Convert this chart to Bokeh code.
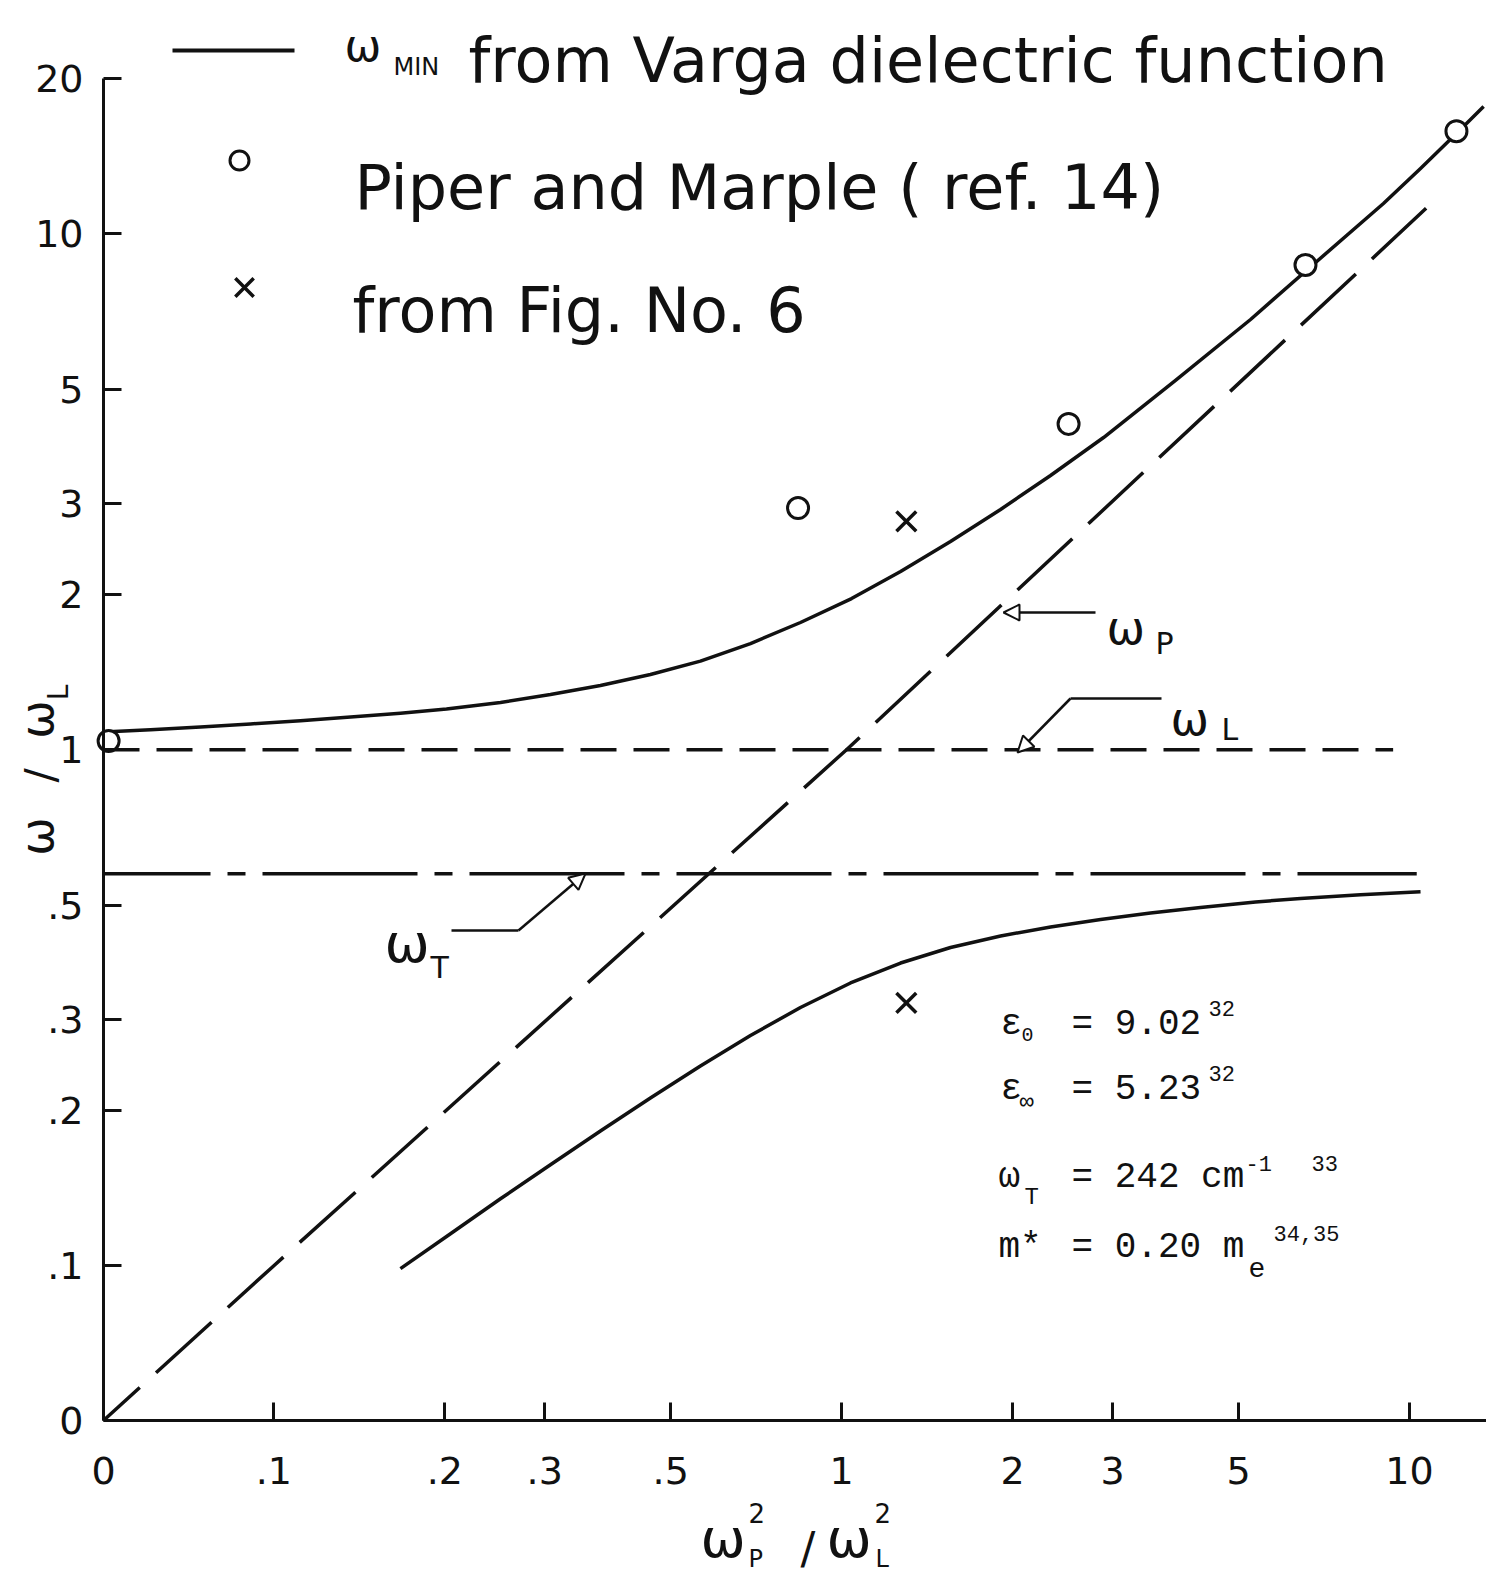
import numpy as np
from math import pi
from bokeh.plotting import figure
from bokeh.models import Range1d, FixedTicker, Label, Arrow, NormalHead
from bokeh.embed import file_html
from bokeh.resources import INLINE

# ---------------- data ----------------
x_ticks = [0, 0.1, 0.2, 0.3, 0.5, 1, 2, 3, 5, 10]
x_tick_labels = ["0", ".1", ".2", ".3", ".5", "1", "2", "3", "5", "10"]
y_ticks = [0, 0.1, 0.2, 0.3, 0.5, 1, 2, 3, 5, 10, 20]
y_tick_labels = ["0", ".1", ".2", ".3", ".5", "1", "2", "3", "5", "10", "20"]

# omega_MIN, upper branch
upper_x = [0.0, 0.0276, 0.0569, 0.0863, 0.1114, 0.1365, 0.1671, 0.2014, 0.2507,
           0.3070, 0.3760, 0.4605, 0.5640, 0.6909, 0.8462, 1.041, 1.270, 1.555,
           1.905, 2.333, 2.893, 3.873, 5.250, 6.615, 9.00, 10.46, 12.20, 13.51]
upper_y = [1.082, 1.093, 1.107, 1.122, 1.138, 1.157, 1.177, 1.199, 1.235,
           1.279, 1.332, 1.399, 1.485, 1.606, 1.764, 1.963, 2.215, 2.532,
           2.921, 3.400, 4.027, 5.195, 6.819, 8.525, 11.44, 13.38, 15.78, 17.64]
# omega_MIN, lower branch
lower_x = [0.1671, 0.2047, 0.2507, 0.3070, 0.3760, 0.4605, 0.5640, 0.6909, 0.8462,
           1.0366, 1.270, 1.555, 1.905, 2.333, 2.858, 3.499, 4.286, 5.358, 6.430,
           8.201, 10.46]
lower_y = [0.0981, 0.1153, 0.1348, 0.1569, 0.1824, 0.2113, 0.2438, 0.2793, 0.3165,
           0.3531, 0.3860, 0.4137, 0.4355, 0.4534, 0.4688, 0.4826, 0.4946, 0.5068,
           0.5150, 0.5234, 0.5305]
# omega_P dashed line
wp_x = [0.0, 0.1, 1.02, 10.7]
wp_y = [0.0, 0.1, 1.0, 11.2]
# omega_L and omega_T dashed lines
wl_x = [0.0, 9.36]
wl_y = [1.0, 1.0]
wt_x = [0.0, 10.3]
wt_y = [0.575, 0.575]
# Piper and Marple (ref. 14)
piper_x = [0.003, 0.838, 2.51, 6.56, 12.1]
piper_y = [1.04, 2.94, 4.28, 8.70, 15.8]
# from Fig. No. 6
fig6_x = [1.30, 1.30]
fig6_y = [2.77, 0.323]


def fwd(v):
    """Axis transform: logarithmic above 0.1, linear stretch from 0 to 0.1."""
    v = np.asarray(v, dtype=float)
    return np.where(v >= 0.1, np.log10(np.clip(v, 0.1, None)), -1.3 + 3.0 * v)


# ---------------- layout ----------------
W, H = 1486, 1574
XS, YS = 567.8, 516.0           # pixels per decade
AX_X, AX_Y = 103, 1420          # page px of the axis lines
X0 = AX_X + 1.3 * XS
Y0 = AX_Y - 1.3 * YS


def px(xp):
    return (xp - X0) / XS


def py(yp):
    return (Y0 - yp) / YS


p = figure(width=W, height=H, output_backend="svg", toolbar_location=None,
           title=None,
           x_range=Range1d(px(0), px(W)), y_range=Range1d(py(H), py(0)),
           min_border_left=0, min_border_right=0, min_border_top=0,
           min_border_bottom=0,
           background_fill_color="white", border_fill_color="white")
p.outline_line_color = None
p.xgrid.visible = False
p.ygrid.visible = False

INK = "#111111"
xt = [float(t) for t in fwd(x_ticks)]
yt = [float(t) for t in fwd(y_ticks)]
xa = p.xaxis[0]
ya = p.yaxis[0]
xa.fixed_location = float(fwd(0))
ya.fixed_location = float(fwd(0))
xa.ticker = FixedTicker(ticks=xt)
ya.ticker = FixedTicker(ticks=yt)
xa.major_label_overrides = {t: l for t, l in zip(xt, x_tick_labels)}
ya.major_label_overrides = {t: l for t, l in zip(yt, y_tick_labels)}
ya.bounds = (yt[0], yt[-1])
xa.bounds = (xt[0], px(W))
for ax in (xa, ya):
    ax.axis_line_width = 3
    ax.axis_line_color = INK
    ax.major_tick_line_width = 3
    ax.major_tick_line_color = INK
    ax.major_tick_in = 18
    ax.major_tick_out = 0
    ax.minor_tick_in = 0
    ax.minor_tick_out = 0
    ax.major_label_text_font = "DejaVu Sans"
    ax.major_label_text_font_size = "38px"
    ax.major_label_text_color = INK
xa.major_label_standoff = 36
ya.major_label_standoff = 20

# ---------------- curves ----------------
p.line(fwd(upper_x), fwd(upper_y), line_width=3.5, line_color=INK, line_join="round")
p.line(fwd(lower_x), fwd(lower_y), line_width=3.5, line_color=INK, line_join="round")
p.line(fwd(wp_x), fwd(wp_y), line_width=3.5, line_color=INK,
       line_dash="75 22", line_dash_offset=26)
p.line(fwd(wl_x), fwd(wl_y), line_width=3.5, line_color=INK, line_dash="36 17")
p.line(fwd(wt_x), fwd(wt_y), line_width=3.5, line_color=INK,
       line_dash="155 17 18 17", line_dash_offset=48)

p.scatter(fwd(piper_x), fwd(piper_y), marker="circle", size=21, line_width=3,
          line_color=INK, fill_color="white")
p.scatter(fwd(fig6_x), fwd(fig6_y), marker="x", size=28, line_width=3.5,
          line_color=INK)


def lab(text, xp, yp, size, font="DejaVu Sans", align="left",
        baseline="alphabetic", angle=0.0):
    p.add_layout(Label(x=px(xp), y=py(yp), text=text, text_font=font,
                       text_font_size=f"{size}px", text_align=align,
                       text_baseline=baseline, angle=angle, text_color=INK))


# ---------------- legend ----------------
p.line([px(172), px(294)], [py(50), py(50)], line_width=4, line_color=INK)
lab("ω", 344, 45, 44)
lab("MIN", 393, 66, 24)
lab("from Varga dielectric function", 468, 60, 62)
p.scatter([px(239)], [py(160)], marker="circle", size=19, line_width=3,
          line_color=INK, fill_color="white")
lab("Piper and Marple ( ref. 14)", 354, 187, 62)
p.scatter([px(244)], [py(287)], marker="x", size=26, line_width=3.5,
          line_color=INK)
lab("from Fig. No. 6", 352, 310, 62)

# ---------------- axis titles ----------------
lab("ω", 700, 1538, 54)
lab("2", 748, 1512, 26)
lab("P", 748, 1558, 24)
lab("/", 800, 1548, 44)
lab("ω", 826, 1538, 54)
lab("2", 874, 1512, 26)
lab("L", 875, 1558, 24)

lab("ω", 36, 836, 46, align="center", baseline="middle", angle=pi / 2)
lab("/", 40, 775, 42, align="center", baseline="middle", angle=pi / 2)
lab("ω", 36, 719, 46, align="center", baseline="middle", angle=pi / 2)
lab("L", 58, 692, 28, align="center", baseline="middle", angle=pi / 2)

# ---------------- curve annotations ----------------
head = dict(size=16, fill_color="white", line_color=INK, line_width=2)
p.add_layout(Arrow(x_start=px(1095), y_start=py(612), x_end=px(1003), y_end=py(612),
                   end=NormalHead(**head), line_width=2.5, line_color=INK))
lab("ω", 1106, 627, 46)
lab("P", 1155, 643, 30)

p.line([px(1161), px(1070)], [py(698), py(698)], line_width=2.5, line_color=INK)
p.add_layout(Arrow(x_start=px(1070), y_start=py(698), x_end=px(1017), y_end=py(752),
                   end=NormalHead(**head), line_width=2.5, line_color=INK))
lab("ω", 1170, 718, 46)
lab("L", 1221, 729, 30)

p.line([px(451), px(518)], [py(930), py(930)], line_width=2.5, line_color=INK)
p.add_layout(Arrow(x_start=px(518), y_start=py(930), x_end=px(585), y_end=py(873),
                   end=NormalHead(**head), line_width=2.5, line_color=INK))
lab("ω", 384, 943, 54)
lab("T", 430, 967, 30)

# ---------------- parameter block ----------------
M = "Liberation Mono"
lab("ε", 1000, 1024, 36, M)
lab("0", 1021, 1034, 20, M)
lab("= 9.02", 1071, 1024, 36, M)
lab("32", 1208, 1008, 22, M)

lab("ε", 1000, 1089, 36, M)
lab("∞", 1019, 1102, 24, M)
lab("= 5.23", 1071, 1089, 36, M)
lab("32", 1208, 1073, 22, M)

lab("ω", 998, 1177, 36, M)
lab("T", 1024, 1197, 24, M)
lab("= 242 cm", 1071, 1177, 36, M)
lab("-1", 1245, 1163, 22, M)
lab("33", 1311, 1163, 22, M)

lab("m*", 998, 1247, 36, M)
lab("= 0.20 m", 1071, 1247, 36, M)
lab("e", 1248, 1267, 28, M)
lab("34,35", 1273, 1233, 22, M)

open("out.html", "w").write(file_html(p, INLINE))
